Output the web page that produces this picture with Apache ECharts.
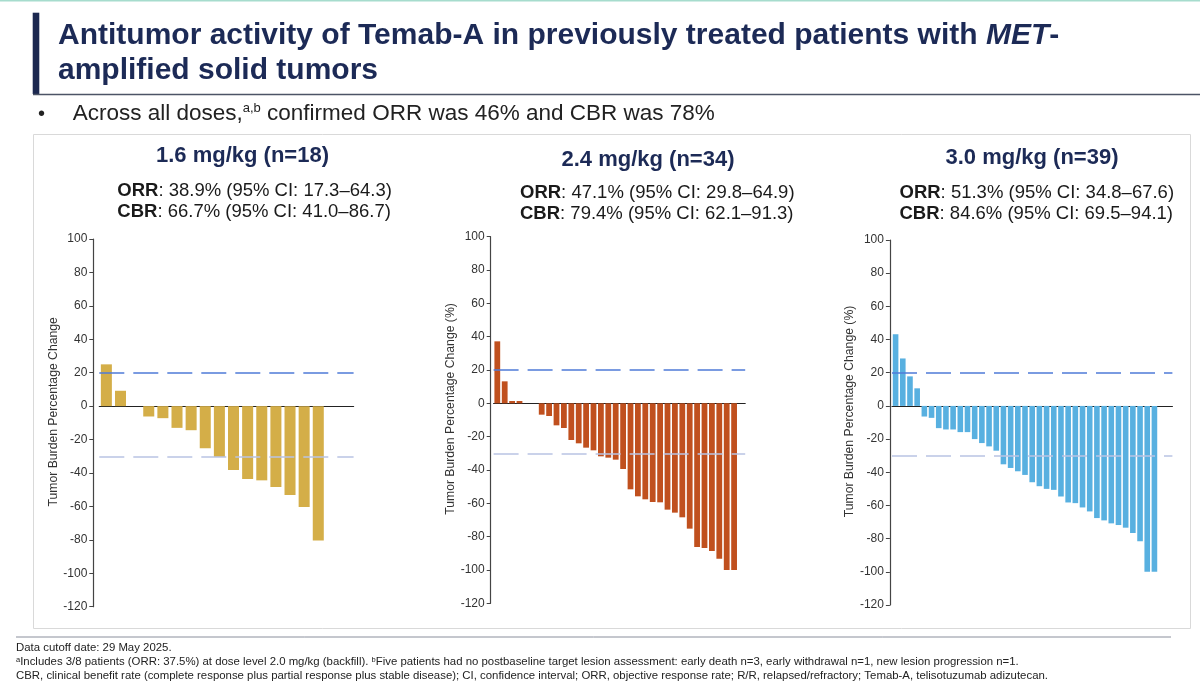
<!DOCTYPE html>
<html>
<head>
<meta charset="utf-8">
<script src="https://cdn.jsdelivr.net/npm/echarts@6/dist/echarts.min.js"></script>
<style>
  html, body { margin: 0; padding: 0; background: #fff; }
  #main { width: 1200px; height: 689px; }
</style>
</head>
<body>
<div id="main"></div>
<script>
// tumor burden change per patient, sorted; '-' = no postbaseline assessment
var dose16 = [25, 9.2, 0, -6.2, -7.2, -13, -14.4, -25.2, -30.4, -38.2, -43.6, -44.4, -48.4, -53.2, -60.4, -80.4, '-', '-'];
var dose24 = [37.2, 13.2, 1.4, 1.4, 0, 0, -6.8, -7.6, -13.2, -14.8, -22, -24, -26.6, -28.2, -31.8, -32.6, -33.8, -39.4,
  -51.6, -55.8, -57.6, -59.2, -59.4, -63.8, -65.6, -68.4, -75.2, -86.2, -86.8, -88.6, -93.2, -100, -100, '-'];
var dose30 = [43.2, 28.6, 17.8, 10.6, -6.4, -7.2, -13.4, -14.2, -14.2, -15.8, -15.8, -20, -22.4, -24.4, -27, -35.2,
  -37.4, -39.4, -41.6, -46, -48.4, -50, -50.6, -54.6, -58.2, -58.6, -61.2, -63.6, -67.6, -69, -70.8, -71.8, -73.4,
  -76.6, -81.6, -100, -100, '-', '-'];

var panelTitles = ['1.6 mg/kg (n=18)', '2.4 mg/kg (n=34)', '3.0 mg/kg (n=39)'];
var orrText = ['38.9% (95% CI: 17.3\u201364.3)', '47.1% (95% CI: 29.8\u201364.9)', '51.3% (95% CI: 34.8\u201367.6)'];
var cbrText = ['66.7% (95% CI: 41.0\u201386.7)', '79.4% (95% CI: 62.1\u201391.3)', '84.6% (95% CI: 69.5\u201394.1)'];
var yNames = ['Tumor Burden Percentage Change', 'Tumor Burden Percentage Change (%)', 'Tumor Burden Percentage Change (%)'];
var colors = ['#d4ae48', '#c0501e', '#58b0e0'];
var thresholds = [20, -30];

var FONT = '"Liberation Sans", Arial, sans-serif';
var NAVY = '#1c2a56';

var series = [dose16, dose24, dose30];
var grids = [
  { left: 99.3, top: 239, width: 254.3, height: 367.7, axisOffset: 6, nameGap: 25 },
  { left: 493.6, top: 236.7, width: 251.6, height: 366.6, axisOffset: 2.9, nameGap: 23 },
  { left: 892, top: 240, width: 280.4, height: 365, axisOffset: 2.1, nameGap: 25 }
];
var textPos = [
  { cx: 242.5, left: 117.3, t: 156, o: 190.5, c: 211.5 },
  { cx: 648, left: 520, t: 160, o: 192.5, c: 214 },
  { cx: 1032, left: 899.5, t: 158, o: 192.5, c: 214 }
];

var chart = echarts.init(document.getElementById('main'));

var option = {
  animation: false,
  textStyle: { fontFamily: FONT },
  grid: grids.map(function (g) {
    return { left: g.left, top: g.top, width: g.width, height: g.height };
  }),
  xAxis: series.map(function (d, i) {
    return {
      type: 'category',
      gridIndex: i,
      data: d.map(function (v, k) { return 'P' + (k + 1); }),
      axisLine: { onZero: true, lineStyle: { color: '#222', width: 1.2 } },
      axisTick: { show: false },
      axisLabel: { show: false },
      splitLine: { show: false }
    };
  }),
  yAxis: series.map(function (d, i) {
    return {
      type: 'value',
      gridIndex: i,
      min: -120,
      max: 100,
      interval: 20,
      offset: grids[i].axisOffset,
      name: yNames[i],
      nameLocation: 'middle',
      nameGap: grids[i].nameGap,
      nameTextStyle: { fontSize: 12.2, color: '#333', fontFamily: FONT, padding: [0, 0, 0, 22] },
      axisLine: { show: true, lineStyle: { color: '#444', width: 1.2 } },
      axisTick: { show: true, length: 4, lineStyle: { color: '#444' } },
      axisLabel: { fontSize: 12, color: '#333', margin: 6, fontFamily: FONT },
      splitLine: { show: false }
    };
  }),
  series: series.map(function (d, i) {
    return {
      type: 'bar',
      xAxisIndex: i,
      yAxisIndex: i,
      data: d,
      barCategoryGap: '22%',
      itemStyle: { color: colors[i] },
      markLine: {
        silent: true,
        symbol: 'none',
        label: { show: false },
        data: [
          { yAxis: thresholds[0], lineStyle: { color: '#4f7bd8', type: [25, 9], width: 1.5 } },
          { yAxis: thresholds[1], lineStyle: { color: '#b9c3e4', type: [25, 9], width: 1.5 } }
        ]
      }
    };
  }),
  graphic: []
};

var g = option.graphic;
// slide decoration
g.push({ type: 'rect', shape: { x: 0, y: 0, width: 1200, height: 1.5 }, style: { fill: '#a6dccd' } });
g.push({ type: 'rect', shape: { x: 32.7, y: 12.7, width: 6.6, height: 81.3 }, style: { fill: '#1c2850' } });
g.push({ type: 'line', shape: { x1: 33, y1: 94.5, x2: 1200, y2: 94.5 }, style: { stroke: '#4d5466', lineWidth: 1.5 } });
g.push({
  type: 'text', x: 58, y: 35.5,
  style: {
    text: 'Antitumor activity of Temab-A in previously treated patients with {i|MET}-',
    font: 'bold 30px ' + FONT, fill: NAVY, verticalAlign: 'middle',
    rich: { i: { font: 'italic bold 30px ' + FONT, fill: NAVY } }
  }
});
g.push({
  type: 'text', x: 58, y: 71,
  style: { text: 'amplified solid tumors', font: 'bold 30px ' + FONT, fill: NAVY, verticalAlign: 'middle' }
});
g.push({
  type: 'text', x: 38, y: 114,
  style: { text: '\u2022', font: '20px ' + FONT, fill: '#222', verticalAlign: 'middle' }
});
g.push({
  type: 'text', x: 72.7, y: 114,
  style: {
    text: 'Across all doses,{sup|a,b} confirmed ORR was 46% and CBR was 78%',
    font: '22.5px ' + FONT, fill: '#222', verticalAlign: 'middle',
    rich: { sup: { font: '13px ' + FONT, fill: '#222', verticalAlign: 'top', lineHeight: 24 } }
  }
});
// panel box
g.push({
  type: 'rect', shape: { x: 33.5, y: 134.5, width: 1157, height: 494 },
  style: { fill: 'none', stroke: '#d9d9d9', lineWidth: 1 }, z: -1
});

textPos.forEach(function (p, i) {
  g.push({
    type: 'text', x: p.cx, y: p.t,
    style: { text: panelTitles[i], font: 'bold 22px ' + FONT, fill: NAVY, align: 'center', verticalAlign: 'middle' }
  });
  g.push({
    type: 'text', x: p.left, y: p.o,
    style: {
      text: '{b|ORR}: ' + orrText[i], font: '18.5px ' + FONT, fill: '#1a1a1a', verticalAlign: 'middle',
      rich: { b: { font: 'bold 18.5px ' + FONT, fill: '#1a1a1a' } }
    }
  });
  g.push({
    type: 'text', x: p.left, y: p.c,
    style: {
      text: '{b|CBR}: ' + cbrText[i], font: '18.5px ' + FONT, fill: '#1a1a1a', verticalAlign: 'middle',
      rich: { b: { font: 'bold 18.5px ' + FONT, fill: '#1a1a1a' } }
    }
  });
});

// footnotes
g.push({ type: 'line', shape: { x1: 16, y1: 637, x2: 1171, y2: 637 }, style: { stroke: '#8a8f9c', lineWidth: 1 } });
var FOOT = '11.4px ' + FONT;
var supFoot = { sup: { font: '7.5px ' + FONT, fill: '#222', verticalAlign: 'top', lineHeight: 13 } };
g.push({
  type: 'text', x: 16, y: 648,
  style: { text: 'Data cutoff date: 29 May 2025.', font: FOOT, fill: '#222', verticalAlign: 'middle' }
});
g.push({
  type: 'text', x: 16, y: 662,
  style: {
    text: '{sup|a}Includes 3/8 patients (ORR: 37.5%) at dose level 2.0 mg/kg (backfill). {sup|b}Five patients had no postbaseline target lesion assessment: early death n=3, early withdrawal n=1, new lesion progression n=1.',
    font: FOOT, fill: '#222', verticalAlign: 'middle', rich: supFoot
  }
});
g.push({
  type: 'text', x: 16, y: 676,
  style: {
    text: 'CBR, clinical benefit rate (complete response plus partial response plus stable disease); CI, confidence interval; ORR, objective response rate; R/R, relapsed/refractory; Temab-A, telisotuzumab adizutecan.',
    font: FOOT, fill: '#222', verticalAlign: 'middle'
  }
});

chart.setOption(option);
</script>
</body>
</html>
